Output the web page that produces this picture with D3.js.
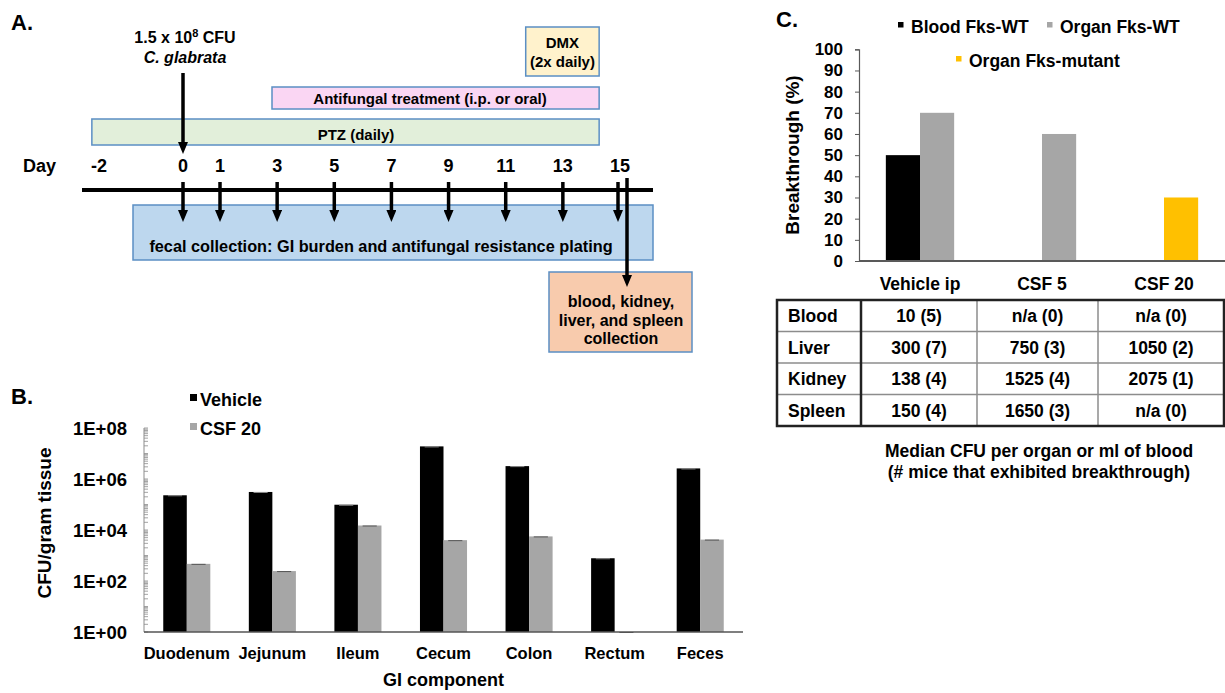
<!DOCTYPE html>
<html>
<head>
<meta charset="utf-8">
<script src="https://cdn.jsdelivr.net/npm/d3@7"></script>
<style>
  body { margin: 0; background: #fff; }
  svg { display: block; font-family: "Liberation Sans", Arial, sans-serif; font-weight: bold; }
</style>
</head>
<body>
<div id="viz"></div>
<script>
// ---------- Data ----------
// Panel A: study schedule (in days)
const dayTicks = [-2, 0, 1, 3, 5, 7, 9, 11, 13, 15];
const collectionDays = [0, 1, 3, 5, 7, 9, 11, 13, 15];
const treatmentNames = ["PTZ (daily)", "Antifungal treatment (i.p. or oral)", "DMX|(2x daily)"];
const treatmentStart = [-2.17, 2.82, 11.7];
const treatmentEnd = [14.27, 14.27, 14.27];
const inoculationDay = 0;
const harvestDay = 15;

// Panel B: GI burden
const giComponents = ["Duodenum", "Jejunum", "Ileum", "Cecum", "Colon", "Rectum", "Feces"];
const giSeries = ["Vehicle", "CSF 20"];
const vehicleCFU = [2.3e5, 3.1e5, 9.8e4, 1.9e7, 3.2e6, 780, 2.6e6];
const csf20CFU = [470, 245, 1.5e4, 4000, 5600, 1, 4200];
const logTicks = [1, 1e2, 1e4, 1e6, 1e8];

// Panel C: breakthrough
const groups = ["Vehicle ip", "CSF 5", "CSF 20"];
const breakSeries = ["Blood Fks-WT", "Organ Fks-WT", "Organ Fks-mutant"];
const bloodWT = [50, null, null];
const organWT = [70, 60, null];
const organMutant = [null, null, 30];
const pctTicks = [0, 10, 20, 30, 40, 50, 60, 70, 80, 90, 100];

// Panel C table
const organs = ["Blood", "Liver", "Kidney", "Spleen"];
const vehicleMedian = ["10 (5)", "300 (7)", "138 (4)", "150 (4)"];
const csf5Median = ["n/a (0)", "750 (3)", "1525 (4)", "1650 (3)"];
const csf20Median = ["n/a (0)", "1050 (2)", "2075 (1)", "n/a (0)"];

// ---------- Setup ----------
const width = 1225, height = 693;
const svg = d3.select("#viz").append("svg")
    .attr("width", width)
    .attr("height", height)
    .attr("viewBox", `0 0 ${width} ${height}`);

const defs = svg.append("defs");
defs.append("marker")
    .attr("id", "head")
    .attr("viewBox", "0 0 12 10")
    .attr("refX", 6)
    .attr("refY", 5)
    .attr("markerWidth", 12)
    .attr("markerHeight", 10)
    .attr("markerUnits", "userSpaceOnUse")
    .attr("orient", "auto")
    .append("path")
    .attr("d", "M0,0L12,5L0,10Z")
    .attr("fill", "#000");

function panelLabel(x, y, t) {
    svg.append("text").attr("x", x).attr("y", y)
        .style("font-size", "22px").text(t);
}

// ---------- Panel A ----------
panelLabel(11, 30, "A.");

const xA = d3.scaleLinear()
    .domain([-2, 0, 1, 15])
    .range([99, 183, 220, 620]);

const treatFill = ["#e2efda", "#fad6f3", "#fff2cc"];
const treatRows = [[119, 145], [87, 109], [27, 76]];
const boxStroke = "#5b8fc4";

treatmentNames.forEach((name, i) => {
    const x0 = xA(treatmentStart[i]), x1 = xA(treatmentEnd[i]);
    const [y0, y1] = treatRows[i];
    svg.append("rect")
        .attr("x", x0).attr("y", y0)
        .attr("width", x1 - x0).attr("height", y1 - y0)
        .attr("fill", treatFill[i])
        .attr("stroke", boxStroke)
        .attr("stroke-width", 1.5);
    const lines = name.split("|");
    const t = svg.append("text")
        .attr("text-anchor", "middle")
        .style("font-size", "15px");
    if (lines.length === 1) {
        t.attr("x", i === 0 ? 356 : 430).attr("y", y1 - 5).text(name);
    } else {
        lines.forEach((l, j) => {
            t.append("tspan").attr("x", (x0 + x1) / 2).attr("y", 48 + j * 19).text(l);
        });
    }
});

// Inoculation
const inoc = svg.append("text")
    .attr("x", xA(inoculationDay) + 2).attr("y", 43)
    .attr("text-anchor", "middle")
    .style("font-size", "16px");
inoc.append("tspan").text("1.5 x 10");
inoc.append("tspan").attr("dy", -6).style("font-size", "11px").text("8");
inoc.append("tspan").attr("dy", 6).text(" CFU");
svg.append("text")
    .attr("x", xA(inoculationDay) + 2).attr("y", 63)
    .attr("text-anchor", "middle")
    .style("font-size", "16px")
    .style("font-style", "italic")
    .text("C. glabrata");

svg.append("line")
    .attr("x1", xA(inoculationDay)).attr("x2", xA(inoculationDay))
    .attr("y1", 73).attr("y2", 148)
    .attr("stroke", "#000").attr("stroke-width", 3.5)
    .attr("marker-end", "url(#head)");

// Day axis
svg.append("text").attr("x", 23).attr("y", 172)
    .style("font-size", "18px").text("Day");
svg.selectAll("text.day")
    .data(dayTicks)
    .enter().append("text")
    .attr("class", "day")
    .attr("x", d => xA(d))
    .attr("y", 172)
    .attr("text-anchor", "middle")
    .style("font-size", "18px")
    .text(d => d);

// Fecal collection box
svg.append("rect")
    .attr("x", 133).attr("y", 205)
    .attr("width", 653 - 133).attr("height", 55)
    .attr("fill", "#bdd7ee")
    .attr("stroke", boxStroke)
    .attr("stroke-width", 1.5);
svg.append("text")
    .attr("x", 381).attr("y", 252)
    .attr("text-anchor", "middle")
    .style("font-size", "16.3px")
    .text("fecal collection: GI burden and antifungal resistance plating");

svg.append("line")
    .attr("x1", 82).attr("x2", 653)
    .attr("y1", 190).attr("y2", 190)
    .attr("stroke", "#000").attr("stroke-width", 4);

svg.selectAll("line.collect")
    .data(collectionDays)
    .enter().append("line")
    .attr("class", "collect")
    .attr("x1", d => xA(d) - (d === harvestDay ? 2 : 0))
    .attr("x2", d => xA(d) - (d === harvestDay ? 2 : 0))
    .attr("y1", 182).attr("y2", 216)
    .attr("stroke", "#000").attr("stroke-width", 3.5)
    .attr("marker-end", "url(#head)");

// Organ harvest
svg.append("rect")
    .attr("x", 549).attr("y", 272)
    .attr("width", 143).attr("height", 80)
    .attr("fill", "#f8cbad")
    .attr("stroke", boxStroke)
    .attr("stroke-width", 1.5);
const harvestText = svg.append("text")
    .attr("text-anchor", "middle")
    .style("font-size", "16px");
["blood, kidney,", "liver, and spleen", "collection"].forEach((l, j) => {
    harvestText.append("tspan").attr("x", 621).attr("y", 307 + j * 18.7).text(l);
});
svg.append("line")
    .attr("x1", xA(harvestDay) + 7).attr("x2", xA(harvestDay) + 7)
    .attr("y1", 178).attr("y2", 281)
    .attr("stroke", "#000").attr("stroke-width", 3.5)
    .attr("marker-end", "url(#head)");

// ---------- Panel B ----------
panelLabel(11, 404, "B.");

const xB = d3.scaleBand()
    .domain(giComponents)
    .range([144, 743])
    .paddingInner(0.45)
    .paddingOuter(0.225);
const xB1 = d3.scaleBand().domain(giSeries).range([0, xB.bandwidth()]);
const yB = d3.scaleLog().domain([1, 1e8]).range([632, 428]);
const colorB = d3.scaleOrdinal().domain(giSeries).range(["#000000", "#a6a6a6"]);

const giData = giComponents.map((c, i) => ({
    name: c,
    values: [{ s: "Vehicle", v: vehicleCFU[i] }, { s: "CSF 20", v: csf20CFU[i] }]
}));

const gB = svg.append("g");
const grp = gB.selectAll("g.grp")
    .data(giData)
    .enter().append("g")
    .attr("transform", d => `translate(${xB(d.name)},0)`);
grp.selectAll("rect")
    .data(d => d.values)
    .enter().append("rect")
    .attr("x", d => xB1(d.s))
    .attr("y", d => yB(d.v))
    .attr("width", xB1.bandwidth())
    .attr("height", d => yB(1) - yB(d.v))
    .attr("fill", d => colorB(d.s));
// small error caps
grp.selectAll("line.cap")
    .data(d => d.values)
    .enter().append("line")
    .attr("x1", d => xB1(d.s) + xB1.bandwidth() * 0.2)
    .attr("x2", d => xB1(d.s) + xB1.bandwidth() * 0.8)
    .attr("y1", d => yB(d.v) + 0.5)
    .attr("y2", d => yB(d.v) + 0.5)
    .attr("stroke", d => d.s === "Vehicle" ? "#8c8c8c" : "#555")
    .attr("stroke-width", 1);

// minor and major ticks
gB.selectAll("line.minor")
    .data(yB.ticks())
    .enter().append("line")
    .attr("x1", 144).attr("x2", 148)
    .attr("y1", d => yB(d)).attr("y2", d => yB(d))
    .attr("stroke", "#8c8c8c").attr("stroke-width", 0.8);
gB.append("line")
    .attr("x1", 144).attr("x2", 144)
    .attr("y1", yB(1e8)).attr("y2", yB(1))
    .attr("stroke", "#8c8c8c").attr("stroke-width", 1);
gB.selectAll("text.ytick")
    .data(logTicks)
    .enter().append("text")
    .attr("x", 127)
    .attr("y", d => yB(d))
    .attr("dy", "0.36em")
    .attr("text-anchor", "end")
    .style("font-size", "18.5px")
    .text(d => "1E+" + String(Math.round(Math.log10(d))).padStart(2, "0"));
gB.append("line")
    .attr("x1", 144).attr("x2", 743)
    .attr("y1", yB(1)).attr("y2", yB(1))
    .attr("stroke", "#555").attr("stroke-width", 1.5);
gB.selectAll("text.xcat")
    .data(giComponents)
    .enter().append("text")
    .attr("x", d => xB(d) + xB.bandwidth() / 2)
    .attr("y", 659)
    .attr("text-anchor", "middle")
    .style("font-size", "16.5px")
    .text(d => d);
gB.append("text")
    .attr("x", (144 + 743) / 2).attr("y", 686)
    .attr("text-anchor", "middle")
    .style("font-size", "18px")
    .text("GI component");
gB.append("text")
    .attr("transform", "translate(44,523) rotate(-90)")
    .attr("text-anchor", "middle")
    .attr("dy", "0.35em")
    .style("font-size", "19px")
    .text("CFU/gram tissue");

// legend
giSeries.forEach((s, i) => {
    gB.append("rect")
        .attr("x", 190).attr("y", 394 + i * 29)
        .attr("width", 7).attr("height", 7)
        .attr("fill", colorB(s));
    gB.append("text")
        .attr("x", 200).attr("y", 406 + i * 29)
        .style("font-size", "18px")
        .text(s);
});

// ---------- Panel C ----------
panelLabel(776, 27, "C.");

const xC = d3.scaleBand()
    .domain(groups)
    .range([859, 1225])
    .paddingInner(0.44)
    .paddingOuter(0.22);
const slots = d3.scaleBand().domain(["blood", "organ"]).range([0, xC.bandwidth()]);
const yC = d3.scaleLinear().domain([0, 100]).range([261, 49.3]);
const colorC = d3.scaleOrdinal().domain(breakSeries).range(["#000000", "#a6a6a6", "#ffc000"]);
const slotOf = { "Blood Fks-WT": "blood", "Organ Fks-WT": "organ", "Organ Fks-mutant": "organ" };

const breakData = [];
[bloodWT, organWT, organMutant].forEach((arr, si) => {
    arr.forEach((v, gi) => {
        if (v !== null) breakData.push({ g: groups[gi], s: breakSeries[si], v: v });
    });
});

const gC = svg.append("g");
gC.selectAll("rect.bar")
    .data(breakData)
    .enter().append("rect")
    .attr("class", "bar")
    .attr("x", d => xC(d.g) + slots(slotOf[d.s]))
    .attr("y", d => yC(d.v))
    .attr("width", slots.bandwidth())
    .attr("height", d => yC(0) - yC(d.v))
    .attr("fill", d => colorC(d.s));

const yAxisC = gC.append("g")
    .attr("transform", "translate(859,0)")
    .call(d3.axisLeft(yC).tickValues(pctTicks).tickSize(4).tickPadding(12));
yAxisC.select(".domain").attr("stroke", "#595959").attr("stroke-width", 1.2);
yAxisC.selectAll(".tick line").attr("stroke", "#595959");
yAxisC.selectAll(".tick text")
    .attr("fill", "#000")
    .style("font-family", "'Liberation Sans', Arial, sans-serif")
    .style("font-weight", "bold")
    .style("font-size", "17px");

gC.append("line")
    .attr("x1", 859).attr("x2", 1225)
    .attr("y1", yC(0)).attr("y2", yC(0))
    .attr("stroke", "#595959").attr("stroke-width", 2);

gC.selectAll("text.gcat")
    .data(groups)
    .enter().append("text")
    .attr("x", d => xC(d) + xC.bandwidth() / 2)
    .attr("y", 290)
    .attr("text-anchor", "middle")
    .style("font-size", "17.5px")
    .text(d => d);

gC.append("text")
    .attr("transform", "translate(792,155) rotate(-90)")
    .attr("text-anchor", "middle")
    .attr("dy", "0.35em")
    .style("font-size", "19px")
    .text("Breakthrough (%)");

// legend
const legC = [
    { s: "Blood Fks-WT", x: 898, y: 22 },
    { s: "Organ Fks-WT", x: 1047, y: 22 },
    { s: "Organ Fks-mutant", x: 956, y: 56 }
];
legC.forEach(l => {
    gC.append("rect")
        .attr("x", l.x).attr("y", l.y)
        .attr("width", 5.5).attr("height", 5.5)
        .attr("fill", colorC(l.s));
    gC.append("text")
        .attr("x", l.x + 13).attr("y", l.y + 11)
        .style("font-size", "17.5px")
        .text(l.s);
});

// table
const colEdges = [777, 861, 977, 1098, 1224];
const yT = d3.scaleBand().domain(organs).range([300, 426]);
const tableCols = [vehicleMedian, csf5Median, csf20Median];
const gT = svg.append("g");

organs.forEach((o, r) => {
    if (r > 0) {
        gT.append("line")
            .attr("x1", colEdges[0]).attr("x2", colEdges[4])
            .attr("y1", yT(o)).attr("y2", yT(o))
            .attr("stroke", "#8c8c8c").attr("stroke-width", 1.5);
    }
    gT.append("text")
        .attr("x", 788).attr("y", yT(o) + yT.bandwidth() / 2)
        .attr("dy", "0.36em")
        .style("font-size", "17.5px")
        .text(o);
    tableCols.forEach((col, c) => {
        gT.append("text")
            .attr("x", (colEdges[c + 1] + colEdges[c + 2]) / 2)
            .attr("y", yT(o) + yT.bandwidth() / 2)
            .attr("dy", "0.36em")
            .attr("text-anchor", "middle")
            .style("font-size", "17.5px")
            .text(col[r]);
    });
});
[2, 3].forEach(i => {
    gT.append("line")
        .attr("x1", colEdges[i]).attr("x2", colEdges[i])
        .attr("y1", 300).attr("y2", 426)
        .attr("stroke", "#8c8c8c").attr("stroke-width", 1.5);
});
gT.append("line")
    .attr("x1", colEdges[1]).attr("x2", colEdges[1])
    .attr("y1", 300).attr("y2", 426)
    .attr("stroke", "#222").attr("stroke-width", 2.5);
gT.append("rect")
    .attr("x", colEdges[0]).attr("y", 300)
    .attr("width", colEdges[4] - colEdges[0]).attr("height", 126)
    .attr("fill", "none")
    .attr("stroke", "#222").attr("stroke-width", 2.5);

const cap = gT.append("text")
    .attr("text-anchor", "middle")
    .style("font-size", "17.5px");
["Median CFU per organ or ml of blood", "(# mice that exhibited breakthrough)"].forEach((l, j) => {
    cap.append("tspan").attr("x", 1039).attr("y", 457 + j * 20.5).text(l);
});
</script>
</body>
</html>
